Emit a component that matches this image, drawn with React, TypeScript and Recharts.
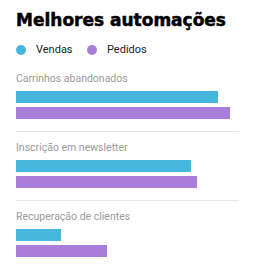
import { BarChart, Bar, XAxis, YAxis, LabelList } from "recharts";

const categories = ["Carrinhos abandonados", "Inscrição em newsletter", "Recuperação de clientes"];
const vendas = [90.6, 78.5, 20.2];
const pedidos = [96, 81.2, 40.8];

const series = [
  { key: "vendas", label: "Vendas", color: "#45B6DC" },
  { key: "pedidos", label: "Pedidos", color: "#A97EDB" },
];

const rows = categories.map((name, i) => ({ name, vendas: vendas[i], pedidos: pedidos[i] }));

const W = 254;
const LEFT = 16;
const RIGHT = 15;

// group label above the first bar, divider above every group but the first
function GroupLabel(props: any) {
  const { y, value, index } = props;
  return (
    <g>
      {index > 0 && (
        <line x1={LEFT} x2={W - RIGHT} y1={y - 28.5} y2={y - 28.5} stroke="#e6e6e6" strokeWidth={1} />
      )}
      <text x={LEFT} y={y - 9} fill="#9b9b9b" fontSize={10.5} fontFamily="Roboto, sans-serif">
        {value}
      </text>
    </g>
  );
}

export default function App() {
  return (
    <div style={{ position: "absolute", top: 0, left: 0, width: W, height: 272, overflow: "hidden", background: "#fff" }}>
      <div
        style={{
          position: "absolute",
          top: 12,
          left: LEFT,
          fontFamily: "'DejaVu Sans', sans-serif",
          fontWeight: 900,
          fontSize: 17,
          lineHeight: "17px",
          color: "#000",
          whiteSpace: "nowrap",
          WebkitTextStroke: "0.5px #000",
        }}
      >
        Melhores automações
      </div>
      <div style={{ position: "absolute", top: 43, left: LEFT, display: "flex", fontFamily: "Roboto, sans-serif", fontSize: 11, lineHeight: "13px", color: "#222" }}>
        {series.map((s) => (
          <div key={s.key} style={{ display: "flex", alignItems: "center", width: 71 }}>
            <span style={{ width: 10, height: 10, borderRadius: "50%", background: s.color, marginRight: 10 }} />
            {s.label}
          </div>
        ))}
      </div>
      <BarChart
        width={W}
        height={277}
        data={rows}
        layout="vertical"
        margin={{ top: 70, right: RIGHT, left: LEFT, bottom: 0 }}
        barSize={12}
        barGap={4}
        style={{ position: "absolute", top: 0, left: 0 }}
      >
        <XAxis type="number" domain={[0, 100]} hide />
        <YAxis type="category" dataKey="name" hide />
        {series.map((s, i) => (
          <Bar key={s.key} dataKey={s.key} fill={s.color} isAnimationActive={false}>
            {i === 0 && <LabelList dataKey="name" content={(p: any) => <GroupLabel {...p} />} />}
          </Bar>
        ))}
      </BarChart>
    </div>
  );
}
